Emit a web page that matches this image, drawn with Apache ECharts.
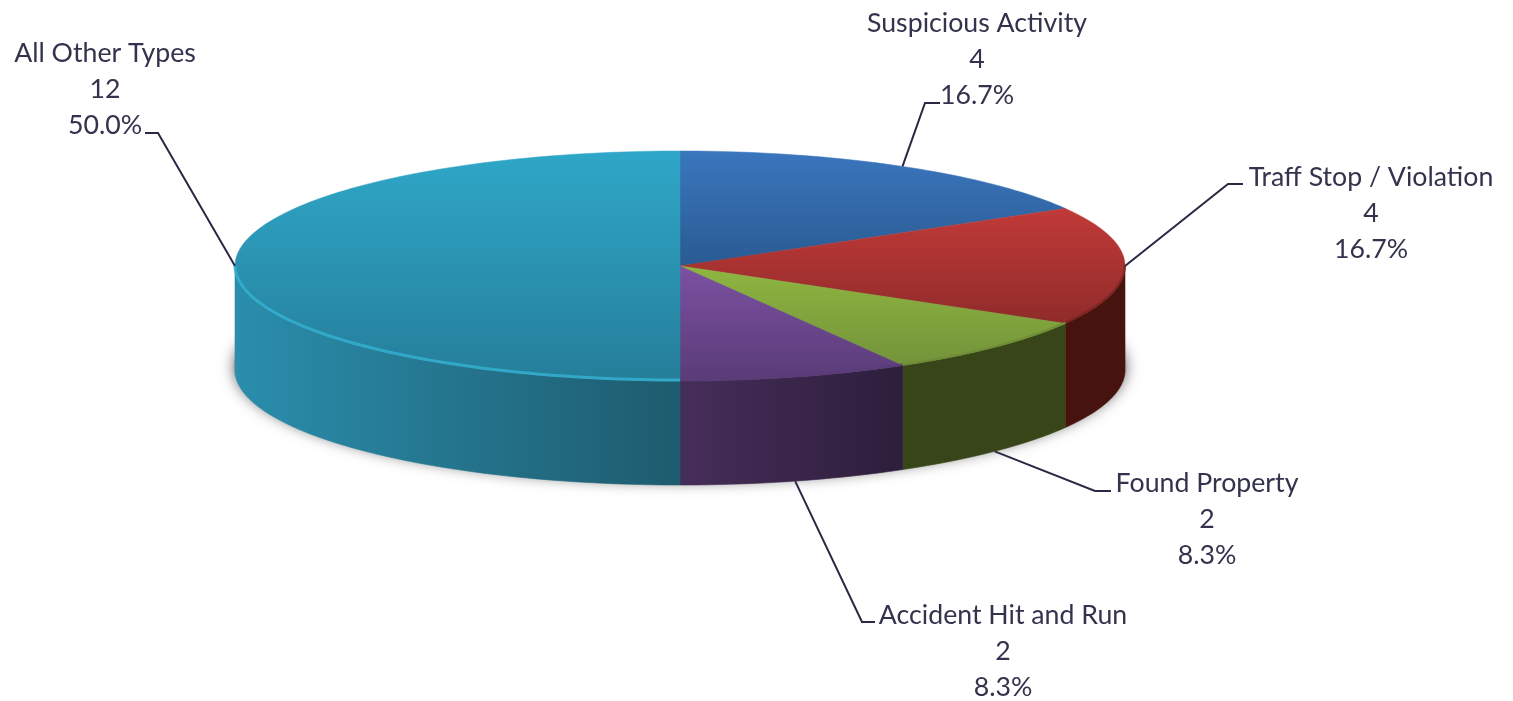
<!DOCTYPE html>
<html>
<head>
<meta charset="utf-8">
<title>Call types</title>
<script src="https://cdn.jsdelivr.net/npm/echarts@6/dist/echarts.min.js"></script>
<style>
html,body{margin:0;padding:0;background:#fff;}
#main{width:1513px;height:701px;}
</style>
</head>
<body>
<div id="main"></div>
<script>
// data, clockwise from 12 o'clock
var categories = ['Suspicious Activity', 'Traff Stop / Violation', 'Found Property', 'Accident Hit and Run', 'All Other Types'];
var values = [4, 4, 2, 2, 12];

// colours per slice: top face [upper, lower], wall [left, right], rim of the top face
var topColors = [['#3A76BE', '#2A5B92'], ['#C13A38', '#8F2B2A'], ['#8FB640', '#73933A'], ['#7B51A1', '#5A3C78'], ['#2FA7C8', '#257E9A']];
var wallColors = [['#47130F', '#47130F'], ['#47130F', '#47130F'], ['#384518', '#384518'], ['#462E5A', '#2D1E3B'], ['#2A8EAC', '#1E5B6E']];
var rimColors = ['#2A5B92', '#7A2423', '#6F8C35', '#5A3C78', '#34AFD0'];
var rimWidths = [2, 2, 2, 2, 3];

// label layout: centre x, top y of the text block, elbow and end of the leader line
var labelX = [977, 1371, 1207, 1003, 105];
var labelY = [5, 159, 465, 597, 35];
var elbows = [[[925, 103], [940, 103]], [[1228, 184], [1243, 184]], [[1095, 491], [1111, 491]], [[862, 622], [875, 622]], [[158, 133], [145, 133]]];

var total = values.reduce(function (a, b) { return a + b; }, 0);
var cx = 680, cy = 266, rx = 445;
var squash = 115 / 445;   // circle -> ellipse
var depth = 104;          // wall height

var rows = [];
var sum = 0;
for (var i = 0; i < values.length; i++) {
    rows.push([i, sum, sum + values[i]]);
    sum += values[i];
}

// point on the pie rim (or centre when r=0), through the polar axes
function pt(api, r, a, dy) {
    var p = api.coord([r, a]);
    return [p[0], cy + (p[1] - cy) * squash + (dy || 0)];
}
function arc(api, a0, a1, dy) {
    var pts = [];
    var n = Math.max(2, Math.ceil(Math.abs(a1 - a0) * 12));
    for (var k = 0; k <= n; k++) {
        pts.push(pt(api, 1, a0 + (a1 - a0) * k / n, dy));
    }
    return pts;
}
function grad(c, horizontal) {
    return new echarts.graphic.LinearGradient(0, 0, horizontal ? 1 : 0, horizontal ? 0 : 1, [
        {offset: 0, color: c[0]}, {offset: 1, color: c[1]}
    ]);
}

function renderSlice(params, api) {
    var idx = api.value(0), a0 = api.value(1), a1 = api.value(2);
    var children = [];
    // wall, front half of the rim only (a quarter of total to three quarters)
    var w0 = Math.max(a0, total / 4), w1 = Math.min(a1, total * 3 / 4);
    if (w1 > w0) {
        var wall = arc(api, w0, w1, 0).concat(arc(api, w1, w0, depth));
        children.push({type: 'polygon', shape: {points: wall},
            style: {fill: grad(wallColors[idx], true), stroke: grad(wallColors[idx], true), lineWidth: 0.6}});
    }
    // top face
    var face = [pt(api, 0, a0)].concat(arc(api, a0, a1, 0));
    children.push({type: 'polygon', shape: {points: face},
        style: {fill: grad(topColors[idx], false), stroke: grad(topColors[idx], false), lineWidth: 0.5}});
    // rim highlight
    if (w1 > w0) {
        children.push({type: 'polyline', shape: {points: arc(api, w0, w1, -1)},
            style: {fill: null, stroke: rimColors[idx], lineWidth: rimWidths[idx], opacity: 0.85}});
    }
    return {type: 'group', children: children};
}

function renderShadow(params, api) {
    var pts = [];
    for (var k = 0; k <= 96; k++) {
        var p = pt(api, 1, total * k / 96, depth);
        pts.push([cx + (p[0] - cx) * 1.004, p[1] - 3]);
    }
    return {type: 'polygon', shape: {points: pts},
        style: {fill: '#a8a8a8', shadowBlur: 14, shadowColor: 'rgba(70,70,70,0.75)'}};
}

function renderLabel(params, api) {
    var idx = api.value(0), a0 = api.value(1), a1 = api.value(2);
    var mid = (a0 + a1) / 2;
    // leader starts at the middle of the slice, on the wall when the slice faces front
    var front = mid > total / 4 && mid < total * 3 / 4;
    var line = [pt(api, 1, mid, front ? depth : 0)].concat(elbows[idx]);
    var pct = (values[idx] / total * 100).toFixed(1) + '%';
    return {type: 'group', children: [
        {type: 'polyline', shape: {points: line}, style: {fill: null, stroke: '#2B2845', lineWidth: 2}},
        {type: 'text', x: labelX[idx], y: labelY[idx], style: {
            text: categories[idx] + '\n' + values[idx] + '\n' + pct,
            fill: '#33334D', font: '26.7px Lato', lineHeight: 36, align: 'center', verticalAlign: 'top'
        }}
    ]};
}

var myChart = echarts.init(document.getElementById('main'));
var option = {
    animation: false,
    backgroundColor: '#fff',
    polar: {center: [cx, cy], radius: [0, rx]},
    angleAxis: {type: 'value', min: 0, max: total, startAngle: 90, clockwise: true, show: false},
    radiusAxis: {type: 'value', min: 0, max: 1, show: false},
    series: [
        {type: 'custom', coordinateSystem: 'polar', clip: false, silent: true, renderItem: renderShadow, data: [[0, 0, total]]},
        {type: 'custom', coordinateSystem: 'polar', clip: false, silent: true, renderItem: renderSlice, data: rows},
        {type: 'custom', coordinateSystem: 'polar', clip: false, silent: true, renderItem: renderLabel, data: rows}
    ]
};
myChart.setOption(option);
</script>
</body>
</html>
